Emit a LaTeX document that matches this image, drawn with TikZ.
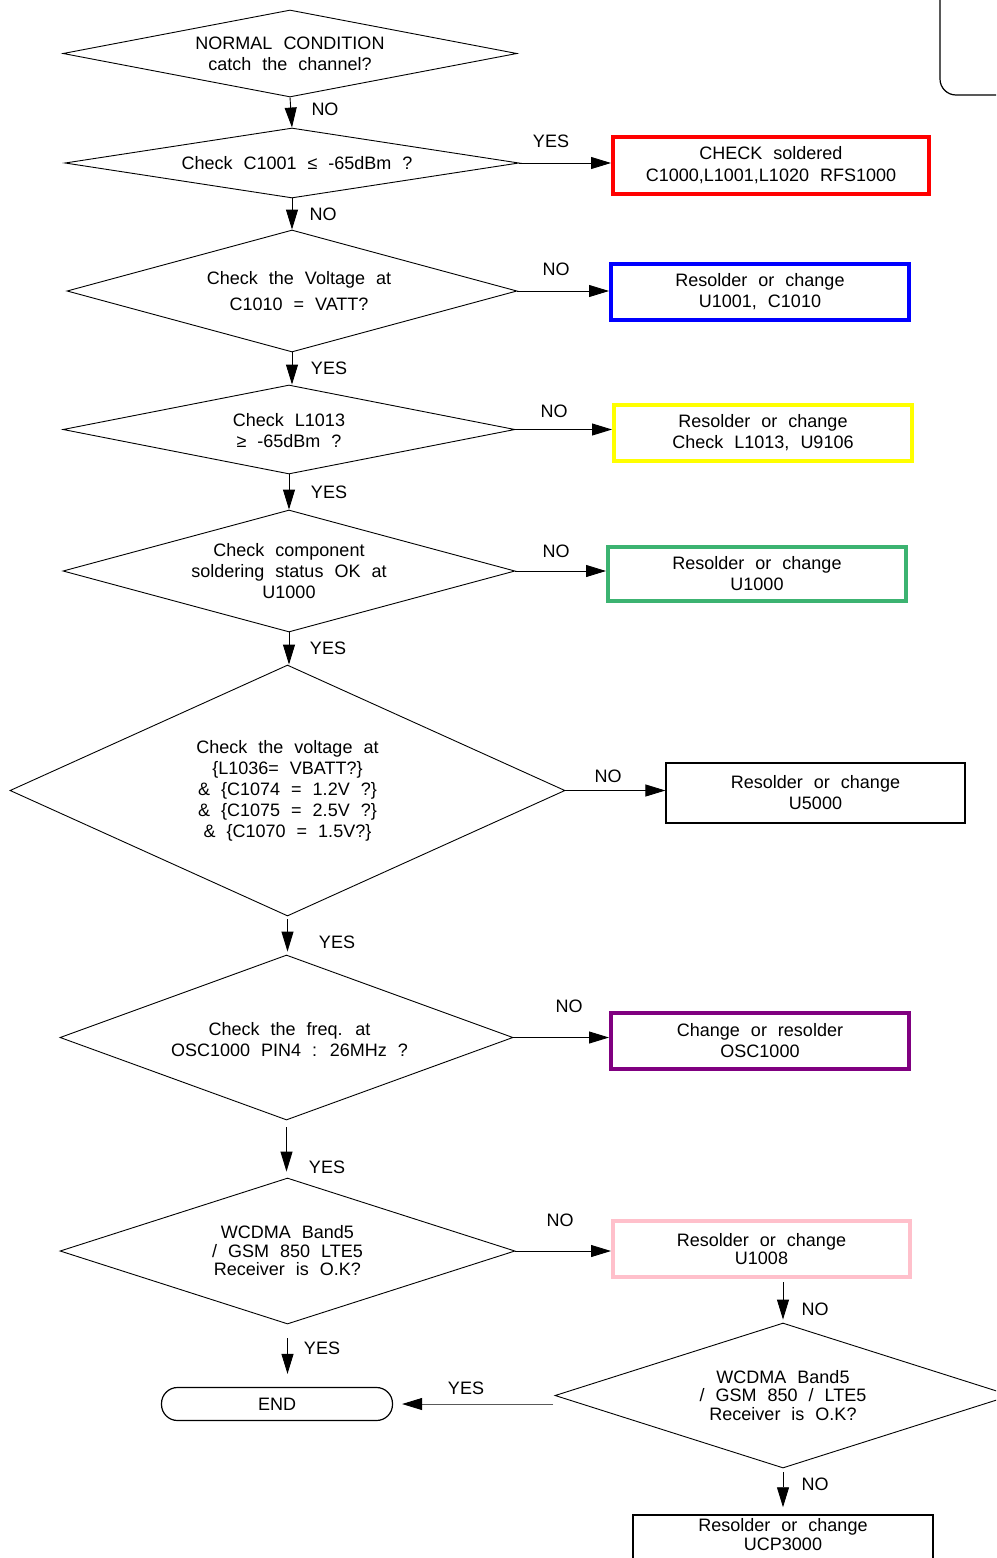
\documentclass[tikz,border=0pt]{standalone}
\usepackage{fontspec}
\setmainfont{Liberation Sans}[WordSpace=2.2]
\usetikzlibrary{shapes.geometric,arrows.meta}
\definecolor{cred}{RGB}{255,0,0}
\definecolor{cblue}{RGB}{0,0,255}
\definecolor{cyellow}{RGB}{255,255,0}
\definecolor{cgreen}{RGB}{60,179,113}
\definecolor{cpurple}{RGB}{128,0,128}
\definecolor{cpink}{RGB}{255,192,203}
\tikzset{
  txt/.style={align=center, font=\fontsize{18}{21}\selectfont, inner sep=0pt},
  dia/.style={draw, shape=diamond, inner sep=0pt, line width=0.9pt},
  cbox/.style={draw, rectangle, inner sep=0pt, line width=4pt, txt},
  bbox/.style={draw, rectangle, inner sep=0pt, line width=1.2pt, txt},
  arr/.style={line width=0.9pt, -{Triangle[length=20pt,width=12pt]}},
  lbl/.style={txt}
}
\begin{document}
\begin{tikzpicture}[x=1pt,y=-1pt]
\useasboundingbox (0,0) rectangle (996,1558);
\clip (0,0) rectangle (996,1558);
\fill[white] (0,0) rectangle (996,1558);

% top-right corner shape
\draw[line width=1.2pt, rounded corners=16pt] (940,-10) -- (940,95) -- (1010,95);

% decisions
\node[dia, minimum width=454pt, minimum height=87pt,
  label={[txt]center:{NORMAL CONDITION\\catch the channel?}}] (d1) at (290,53.5) {};
\node[dia, minimum width=454pt, minimum height=70pt,
  label={[txt, xshift=5pt]center:{Check C1001 ≤ -65dBm ?}}] (d2) at (292,163) {};
\node[dia, minimum width=450pt, minimum height=122pt,
  label={[txt, xshift=7pt, font=\fontsize{18}{26}\selectfont]center:{Check the Voltage at\\C1010 = VATT?}}] (d3) at (292,291) {};
\node[dia, minimum width=452pt, minimum height=89pt,
  label={[txt, yshift=-1pt]center:{Check L1013\\≥ -65dBm ?}}] (d4) at (289,429.5) {};
\node[dia, minimum width=452pt, minimum height=122pt,
  label={[txt]center:{Check component\\soldering status OK at\\U1000}}] (d5) at (289,571) {};
\node[dia, minimum width=555pt, minimum height=251pt,
  label={[txt]center:{Check the voltage at\\\{L1036= VBATT?\}\\\& \{C1074 = 1.2V ?\}\\\& \{C1075 = 2.5V ?\}\\\& \{C1070 = 1.5V?\}}}] (d6) at (287.5,790.5) {};
\node[dia, minimum width=453pt, minimum height=165pt,
  label={[txt, xshift=3pt, yshift=-2pt]center:{Check the freq. at\\OSC1000 PIN4 : 26MHz ?}}] (d7) at (286.5,1037.5) {};
\node[dia, minimum width=455pt, minimum height=146pt,
  label={[txt, font=\fontsize{18}{18.5}\selectfont]center:{WCDMA Band5\\/ GSM 850 LTE5\\Receiver is O.K?}}] (d8) at (287.5,1251) {};
\node[dia, minimum width=456pt, minimum height=145pt,
  label={[txt, font=\fontsize{18}{18.5}\selectfont]center:{WCDMA Band5\\/ GSM 850 / LTE5\\Receiver is O.K?}}] (d9) at (783,1395.5) {};

% action boxes
\node[cbox, draw=cred, minimum width=316pt, minimum height=57pt, font=\fontsize{18}{22}\selectfont] (red) at (771,165.5) {CHECK soldered\\C1000,L1001,L1020 RFS1000};
\node[cbox, draw=cblue, minimum width=298pt, minimum height=56pt] (blue) at (760,292) {Resolder or change\\U1001, C1010};
\node[cbox, draw=cyellow, minimum width=298pt, minimum height=56pt] (yellow) at (763,433) {Resolder or change\\Check L1013, U9106};
\node[cbox, draw=cgreen, minimum width=298pt, minimum height=54pt] (green) at (757,574) {Resolder or change\\U1000};
\node[bbox, minimum width=299pt, minimum height=60pt] (u5000) at (815.5,793) {Resolder or change\\U5000};
\node[cbox, draw=cpurple, minimum width=298pt, minimum height=56pt] (purple) at (760,1041) {Change or resolder\\OSC1000};
\node[cbox, draw=cpink, minimum width=297pt, minimum height=56pt, font=\fontsize{18}{18}\selectfont] (pink) at (761.5,1249) {Resolder or change\\U1008};
\node[bbox, line width=1.5pt, minimum width=300pt, minimum height=50pt,
  label={[txt, yshift=5pt, font=\fontsize{18}{19}\selectfont]center:{Resolder or change\\UCP3000}}] (ucp) at (783,1540) {};
\node[bbox, rounded corners=16pt, minimum width=231pt, minimum height=33pt] (END) at (277,1404) {END};

% vertical connectors
\draw[arr] (d1.south) -- (d2.north);
\draw[arr] (d2.south) -- (d2.south |- d3.north);
\draw[arr] (d3.south) -- (d3.south |- d4.north);
\draw[arr] (d4.south) -- (d4.south |- d5.north);
\draw[arr] (d5.south) -- (d5.south |- d6.north);
\draw[arr, shorten <=3pt, shorten >=3pt] (d6.south) -- (d6.south |- d7.north);
\draw[arr, shorten <=7pt, shorten >=6pt] (d7.south) -- (d7.south |- d8.north);
\draw[arr, shorten <=14pt, shorten >=13pt] (d8.south) -- (d8.south |- END.north);
\draw[arr, shorten <=3pt, shorten >=3pt] (d9.north |- pink.south) -- (d9.north);
\draw[arr, shorten <=4pt, shorten >=7pt] (d9.south) -- (d9.south |- ucp.north);

% horizontal connectors
\draw[arr] (d2.east) -- (red.west |- d2.east);
\draw[arr] (d3.east) -- (blue.west |- d3.east);
\draw[arr] (d4.east) -- (yellow.west |- d4.east);
\draw[arr] (d5.east) -- (green.west |- d5.east);
\draw[arr] (d6.east) -- (u5000.west |- d6.east);
\draw[arr] (d7.east) -- (purple.west |- d7.east);
\draw[arr] (d8.east) -- (pink.west |- d8.east);
\coordinate (e9) at (553,1404);
\draw[arr, draw=black!65, -{Triangle[length=20pt,width=12pt,color=black]}, shorten >=9pt] (e9) -- (END.east);

% labels
\node[lbl] (l1) at (325,109) {NO};
\node[lbl] (l2) at (551,141) {YES};
\node[lbl] (l3) at (323,214) {NO};
\node[lbl] (l4) at (556,269) {NO};
\node[lbl] (l5) at (329,368) {YES};
\node[lbl] (l6) at (554,411) {NO};
\node[lbl] (l7) at (329,492) {YES};
\node[lbl] (l8) at (556,551) {NO};
\node[lbl] (l9) at (328,648) {YES};
\node[lbl] (l10) at (608,776) {NO};
\node[lbl] (l11) at (337,942) {YES};
\node[lbl] (l12) at (569,1006) {NO};
\node[lbl] (l13) at (327,1167) {YES};
\node[lbl] (l14) at (560,1220) {NO};
\node[lbl] (l15) at (322,1348) {YES};
\node[lbl] (l16) at (815,1309) {NO};
\node[lbl] (l17) at (466,1388) {YES};
\node[lbl] (l18) at (815,1484) {NO};
\end{tikzpicture}
\end{document}
